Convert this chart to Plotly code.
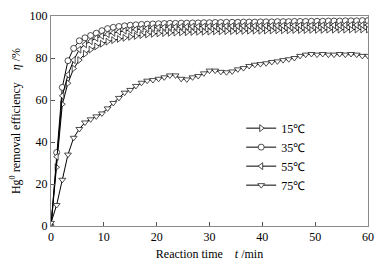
import plotly.graph_objects as go

time_min = [0, 1.07, 2.14, 3.21, 4.29, 5.36, 6.43, 7.5, 8.57, 9.64, 10.71, 11.79, 12.86,
            13.93, 15, 16.07, 17.14, 18.21, 19.29, 20.36, 21.43, 22.5, 23.57, 24.64, 25.71,
            26.79, 27.86, 28.93, 30, 31.07, 32.14, 33.21, 34.29, 35.36, 36.43, 37.5, 38.57,
            39.64, 40.71, 41.79, 42.86, 43.93, 45, 46.07, 47.14, 48.21, 49.29, 50.36, 51.43,
            52.5, 53.57, 54.64, 55.71, 56.79, 57.86, 58.93, 60]

eff_15 = [0, 28, 58, 68, 75, 79, 82, 84, 85.5, 86.8, 87.8, 88.5, 89.1, 89.6, 90.1, 90.5,
          90.9, 91.2, 91.5, 91.7, 91.9, 92.0, 92.1, 92.2, 92.3, 92.4, 92.5, 92.5, 92.6, 92.7,
          92.7, 92.8, 92.8, 92.9, 92.9, 93.0, 93.0, 93.0, 93.1, 93.1, 93.2, 93.2, 93.2, 93.3,
          93.3, 93.3, 93.4, 93.4, 93.4, 93.5, 93.5, 93.5, 93.5, 93.6, 93.6, 93.6, 93.6]

eff_35 = [0, 35, 66, 78.7, 84.6, 88.2, 89.6, 90.7, 91.8, 93, 94, 94.6, 95.0, 95.3, 95.6,
          95.8, 96.0, 96.1, 96.2, 96.3, 96.4, 96.5, 96.5, 96.6, 96.6, 96.7, 96.7, 96.8, 96.8,
          96.9, 96.9, 97.0, 97.0, 97.0, 97.1, 97.1, 97.1, 97.2, 97.2, 97.2, 97.3, 97.3, 97.3,
          97.4, 97.4, 97.4, 97.5, 97.5, 97.5, 97.6, 97.6, 97.6, 97.7, 97.7, 97.7, 97.8, 97.8]

eff_55 = [0, 33, 62, 72, 79, 84, 86.5, 88, 89.5, 90.5, 91.3, 92, 92.5, 93, 93.3, 93.6,
          93.9, 94.1, 94.3, 94.5, 94.6, 94.7, 94.8, 94.9, 94.9, 95.0, 95.0, 95.0, 95.1, 95.1,
          95.1, 95.2, 95.2, 95.2, 95.3, 95.3, 95.3, 95.3, 95.4, 95.4, 95.4, 95.4, 95.5, 95.5,
          95.5, 95.5, 95.5, 95.6, 95.6, 95.6, 95.6, 95.6, 95.7, 95.7, 95.7, 95.7, 95.7]

eff_75 = [1.5, 10, 22, 34, 42, 46.2, 49.3, 50.8, 52.2, 53.6, 56, 58.6, 61, 63.5, 64.8, 66.7,
          68.2, 69.2, 69.5, 70.1, 70.8, 71.7, 71.7, 70.1, 69.8, 70.8, 71.4, 72.7, 74, 74,
          73.4, 73.2, 73.6, 74.6, 75.2, 76.2, 76.8, 77.1, 77.5, 78.1, 78.4, 79, 79.4, 80,
          81, 81.6, 81.9, 81.6, 81.9, 81.6, 81.6, 81.9, 81.6, 81.9, 81.6, 81, 81]

series_names = ["15℃", "35℃", "55℃", "75℃"]
series_values = [eff_15, eff_35, eff_55, eff_75]
symbols = ["triangle-right", "circle", "triangle-left", "triangle-down"]

FONT = "Liberation Serif"

fig = go.Figure()
for name, vals, sym in zip(series_names, series_values, symbols):
    fig.add_trace(go.Scatter(
        x=time_min, y=vals, name=name, mode="lines+markers",
        line=dict(color="black", width=1),
        marker=dict(symbol=sym, size=6, color="white", line=dict(width=0.8, color="#222222")),
    ))

axis_common = dict(
    showgrid=False, zeroline=False, showline=True, mirror=True,
    linecolor="#8a8a8a", linewidth=1, automargin=False,
    ticks="inside", ticklen=4, tickcolor="#555555",
    tickfont=dict(family=FONT, size=12, color="black"),
)

fig.update_layout(
    width=383, height=262,
    margin=dict(l=51, r=15, t=16, b=36, autoexpand=False),
    paper_bgcolor="white", plot_bgcolor="white",
    font=dict(family=FONT, size=12, color="black"),
    showlegend=True,
    legend=dict(
        x=0.6, y=0.535, xanchor="left", yanchor="top",
        bgcolor="rgba(0,0,0,0)", font=dict(family=FONT, size=12),
        tracegroupgap=0, itemwidth=30,
    ),
    xaxis=dict(range=[0, 60], dtick=10, tick0=0,
               title=dict(text="Reaction time    <i>t</i> /min",
                          font=dict(family=FONT, size=12), standoff=6),
               **axis_common),
    yaxis=dict(range=[0, 100], dtick=20, tick0=0,
               title=dict(text="Hg<sup>0</sup> removal efficiency    <i>η</i> /%",
                          font=dict(family=FONT, size=12), standoff=6),
               **axis_common),
)

fig.write_html("out.html",
               config={"displayModeBar": False},
               post_script="document.body.style.margin='0';document.body.style.padding='0';")
